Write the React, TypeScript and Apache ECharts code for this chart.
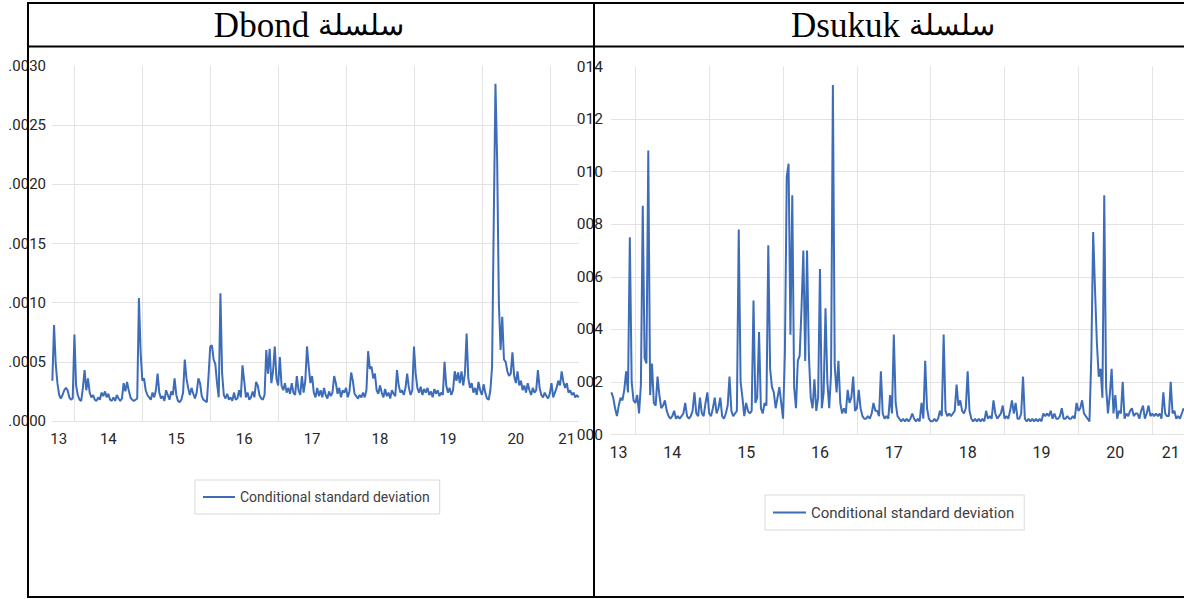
import React, { useEffect, useRef } from 'react';
import * as echarts from 'echarts';

// ---- data ----
const START_YEAR = 2013.675; // first observation (fractional year)
const STEP_YEAR = 0.025; // spacing between observations (fractional year)
const X_MIN = 2013.67;
const X_MAX = 2021.43;

const SERIES_NAME = 'Conditional standard deviation';

const yearGridLines = [2014, 2015, 2016, 2017, 2018, 2019, 2020, 2021];
const yearLabelPositions = [2013.77, 2014.5, 2015.5, 2016.5, 2017.5, 2018.5, 2019.5, 2020.5, 2021.25];
const yearLabels = ['13', '14', '15', '16', '17', '18', '19', '20', '21'];

const dbondTickLabels = ['.0000', '.0005', '.0010', '.0015', '.0020', '.0025', '.0030'];
const dsukukTickLabels = ['000', '002', '004', '006', '008', '010', '012', '014'];

// Dbond conditional standard deviation, in units of 1e-4
const dbondSd = [
  3.4, 8.1, 4.8, 3.2, 2.2, 1.9, 2.2, 2.6, 2.8, 2.6,
  2.0, 1.8, 1.9, 7.3, 3.0, 2.2, 1.8, 1.7, 2.8, 4.3,
  2.6, 3.6, 2.4, 2.0, 2.2, 1.8, 1.7, 2.0, 1.8, 2.4,
  2.1, 2.5, 2.0, 2.3, 1.8, 1.7, 2.0, 1.7, 2.2, 1.9,
  1.7, 1.9, 3.2, 2.5, 3.3, 2.6, 2.0, 1.8, 1.7, 1.8,
  1.9, 10.4, 5.8, 3.4, 3.6, 2.6, 2.2, 2.0, 1.8, 2.4,
  2.0, 2.6, 4.0, 2.4, 1.9, 2.1, 1.7, 2.6, 2.2, 1.8,
  2.5, 2.2, 3.6, 2.2, 1.7, 1.6, 1.8, 2.4, 5.2, 3.6,
  2.8, 2.2, 2.8, 2.3, 1.9, 2.4, 3.6, 3.2, 2.1, 1.8,
  1.7, 1.6, 3.8, 6.3, 6.4, 5.2, 4.8, 3.2, 2.0, 10.8,
  4.0, 2.2, 1.9, 2.3, 1.8, 2.0, 1.7, 2.4, 1.8, 1.9,
  2.6, 2.0, 4.7, 3.4, 2.0, 2.4, 1.8, 2.0, 2.5, 2.0,
  3.3, 3.0, 2.2, 1.9, 1.8, 2.2, 6.0, 4.0, 6.1, 3.2,
  4.2, 6.3, 3.6, 3.0, 5.4, 3.0, 2.6, 3.2, 2.4, 2.8,
  2.3, 3.2, 2.4, 2.2, 3.8, 2.6, 2.2, 3.8, 2.4, 3.4,
  6.3, 4.6, 3.2, 3.8, 2.4, 2.0, 2.8, 2.1, 2.6, 2.0,
  2.8, 2.2, 1.9, 2.5, 2.1, 2.4, 3.8, 3.2, 2.3, 2.8,
  2.0, 2.6, 2.4, 2.8, 2.0, 2.5, 4.1, 3.4, 2.3, 2.1,
  1.9, 2.2, 2.0, 2.4, 2.0, 2.6, 5.9, 4.4, 4.6, 3.6,
  4.0, 2.6, 2.3, 3.0, 2.4, 2.0, 2.7, 2.1, 2.4, 1.9,
  2.6, 2.3, 2.1, 4.3, 3.0, 2.4, 2.6, 2.2, 2.8, 4.0,
  2.8, 2.2, 2.6, 6.3, 4.0, 2.8, 2.4, 2.9, 2.2, 2.7,
  2.4, 2.8, 2.2, 2.5, 2.0, 2.7, 2.3, 2.6, 2.1, 2.4,
  2.2, 5.0, 3.0, 2.4, 2.8, 2.2, 2.6, 4.2, 3.4, 4.1,
  3.2, 4.2, 3.0, 4.0, 7.4, 3.6, 2.8, 3.2, 2.4, 2.8,
  2.2, 3.3, 2.6, 2.2, 3.1, 2.4, 1.9, 1.8, 2.6, 4.6,
  17.0, 28.5, 22.0, 10.0, 6.0, 8.8, 5.2, 5.0, 4.2, 3.8,
  4.0, 5.8, 3.8, 3.2, 4.2, 3.0, 3.4, 2.6, 3.0, 2.4,
  3.2, 2.6, 2.2, 2.8, 2.4, 2.6, 4.3, 2.8, 2.2, 2.0,
  2.4, 2.1, 1.9, 2.3, 3.2, 2.0, 2.4, 2.8, 3.4, 3.0,
  4.2, 3.3, 2.8, 3.2, 2.4, 2.6, 2.2, 2.4, 2.0, 2.2, 2.0,
];

// Dsukuk conditional standard deviation, in units of 1e-3
const dsukukSd = [
  1.6, 1.4, 1.0, 0.7, 1.1, 1.4, 1.3, 1.7, 2.4, 1.6,
  7.5, 2.0, 1.3, 1.2, 1.5, 0.8, 1.9, 8.7, 2.9, 2.7,
  10.8, 1.5, 2.7, 1.2, 1.1, 2.2, 1.5, 1.0, 1.1, 1.3,
  0.9, 0.7, 0.6, 0.7, 0.9, 0.6, 0.7, 0.6, 0.7, 0.8,
  1.2, 0.7, 0.6, 0.7, 0.9, 1.6, 0.8, 0.7, 1.4, 0.8,
  0.7, 1.2, 1.6, 0.8, 0.7, 1.0, 1.4, 0.8, 1.0, 1.4,
  0.7, 0.6, 0.8, 1.1, 2.2, 0.9, 0.7, 0.8, 0.9, 7.8,
  2.0, 1.4, 0.7, 1.2, 0.9, 0.8, 0.9, 5.1, 1.2, 1.4,
  3.9, 1.0, 0.8, 1.2, 1.1, 7.2, 2.5, 1.8, 1.6, 1.0,
  1.4, 1.8, 1.2, 0.6, 3.1, 9.8, 10.3, 3.8, 9.1, 1.8,
  1.0, 2.8, 3.0, 4.8, 7.0, 2.8, 7.0, 3.0, 1.4, 1.0,
  2.1, 0.9, 1.4, 6.3, 1.0, 1.6, 4.8, 2.0, 1.0, 2.3,
  13.3, 2.6, 1.6, 2.8, 1.2, 0.8, 1.0, 0.8, 1.7, 1.2,
  1.4, 2.2, 0.9, 1.0, 1.7, 1.0, 0.7, 0.6, 0.6, 0.7,
  0.6, 0.8, 1.2, 0.9, 0.9, 0.7, 2.4, 0.8, 0.6, 0.7,
  0.6, 1.5, 0.8, 3.8, 1.2, 0.7, 0.6, 0.5, 0.6, 0.5,
  0.6, 0.5, 0.6, 0.8, 0.6, 0.5, 0.6, 0.5, 1.2, 0.6,
  2.8, 1.0, 0.6, 0.5, 0.5, 0.6, 0.5, 0.6, 0.9, 0.7,
  3.8, 0.9, 0.7, 0.8, 0.7, 0.8, 0.9, 1.9, 1.1, 1.3,
  0.9, 0.8, 1.0, 2.4, 0.9, 0.6, 0.5, 0.6, 0.5, 0.6,
  0.5, 0.6, 0.5, 0.9, 0.6, 0.7, 0.6, 1.3, 0.8, 0.6,
  0.7, 0.8, 1.1, 0.6, 0.7, 0.6, 0.9, 1.3, 0.8, 1.2,
  0.6, 0.6, 0.8, 2.2, 0.6, 0.5, 0.6, 0.5, 0.6, 0.5,
  0.6, 0.5, 0.6, 0.5, 0.8, 0.7, 0.8, 0.7, 0.9, 0.6,
  0.8, 0.6, 0.6, 0.7, 1.0, 0.6, 0.6, 0.7, 0.6, 0.6,
  0.7, 0.6, 1.2, 0.9, 1.0, 1.3, 0.8, 0.7, 0.6, 0.5,
  3.0, 7.7, 5.5, 3.5, 2.2, 2.5, 1.4, 9.1, 1.8, 0.8,
  1.5, 2.5, 0.8, 1.5, 0.6, 0.9, 0.8, 2.0, 0.6, 0.8,
  0.7, 0.9, 1.0, 0.7, 0.8, 0.8, 0.6, 0.9, 1.1, 0.6,
  0.8, 1.1, 0.7, 0.8, 0.7, 0.8, 0.7, 0.8, 0.6, 1.6,
  0.8, 0.7, 0.7, 2.0, 0.8, 0.9, 0.6, 0.7, 0.6, 0.8, 1.0,
];

// ---- styles ----
const SANS = 'Roboto, "Liberation Sans", sans-serif';
const SERIF = '"Liberation Serif", "Times New Roman", "DejaVu Serif", serif';
const LINE_COLOR = '#3d6cb9';
const GRID_COLOR = '#e3e3e3';
const LABEL_COLOR = '#262626';

function toPoints(values: number[], unit: number) {
  return values.map((v, i) => [+(START_YEAR + i * STEP_YEAR).toFixed(3), +(v * unit).toPrecision(6)]);
}

function xAxisFor(gridIndex: number, fontSize: number) {
  return {
    type: 'value',
    gridIndex,
    min: X_MIN,
    max: X_MAX,
    axisLine: { show: false },
    axisTick: { show: false, customValues: yearGridLines },
    splitLine: { show: true, lineStyle: { color: GRID_COLOR, width: 1 } },
    axisLabel: {
      customValues: yearLabelPositions,
      formatter: (v: number) => yearLabels[yearLabelPositions.indexOf(v)] ?? String(Math.floor(v) % 100),
      fontFamily: SANS,
      fontSize,
      color: LABEL_COLOR,
      margin: 10,
    },
  };
}

function titleText(x: number, latin: string) {
  return {
    type: 'text',
    z: 100,
    x,
    y: 25,
    style: {
      text: `{a|${latin}}{b|سلسلة}`,
      rich: {
        a: { font: `35px ${SERIF}`, fill: '#000' },
        b: { font: `29px ${SERIF}`, fill: '#000', padding: [0, 0, 0, 9] },
      },
      textAlign: 'center',
      textVerticalAlign: 'middle',
    },
  };
}

export default function App() {
  const ref = useRef<HTMLDivElement>(null);

  useEffect(() => {
    if (!ref.current) return;
    const chart = echarts.init(ref.current, null, { renderer: 'svg' });

    const frameLine = (x1: number, y1: number, x2: number, y2: number) => ({
      type: 'line',
      z: 100,
      silent: true,
      shape: { x1, y1, x2, y2 },
      style: { stroke: '#000', lineWidth: 2 },
    });

    const option: any = {
      animation: false,
      backgroundColor: '#fff',
      grid: [
        { left: 52, top: 66, width: 527, height: 355 },
        { left: 611, top: 66.5, width: 573, height: 368 },
      ],
      xAxis: [xAxisFor(0, 15), xAxisFor(1, 16)],
      yAxis: [
        {
          type: 'value',
          gridIndex: 0,
          min: 0,
          max: 0.003,
          interval: 0.0005,
          axisLine: { show: false },
          axisTick: { show: false },
          splitLine: { show: true, showMaxLine: false, lineStyle: { color: GRID_COLOR, width: 1 } },
          axisLabel: {
            formatter: (v: number) => dbondTickLabels[Math.round(v / 0.0005)],
            fontFamily: SANS,
            fontSize: 15,
            color: LABEL_COLOR,
            margin: 6,
            showMinLabel: true,
            showMaxLabel: true,
          },
        },
        {
          type: 'value',
          gridIndex: 1,
          min: 0,
          max: 0.014,
          interval: 0.002,
          axisLine: { show: false },
          axisTick: { show: false },
          splitLine: { show: true, showMaxLine: false, lineStyle: { color: GRID_COLOR, width: 1 } },
          axisLabel: {
            formatter: (v: number) => dsukukTickLabels[Math.round(v / 0.002)],
            fontFamily: SANS,
            fontSize: 15.5,
            color: LABEL_COLOR,
            margin: 8,
            showMinLabel: true,
            showMaxLabel: true,
          },
        },
      ],
      legend: [
        {
          left: 195,
          top: 480,
          padding: [10, 10, 10, 8],
          borderColor: '#d9d9d9',
          borderWidth: 1,
          icon: 'rect',
          itemWidth: 32,
          itemHeight: 2,
          selectedMode: false,
          data: [SERIES_NAME],
          textStyle: { fontFamily: SANS, fontSize: 14, color: '#404040' },
        },
        {
          left: 765,
          top: 495,
          padding: [10, 10, 10, 8],
          borderColor: '#d9d9d9',
          borderWidth: 1,
          icon: 'rect',
          itemWidth: 33,
          itemHeight: 2,
          selectedMode: false,
          data: [SERIES_NAME],
          textStyle: { fontFamily: SANS, fontSize: 15, color: '#404040' },
        },
      ],
      series: [
        {
          name: SERIES_NAME,
          type: 'line',
          xAxisIndex: 0,
          yAxisIndex: 0,
          symbol: 'none',
          showSymbol: false,
          color: LINE_COLOR,
          lineStyle: { color: LINE_COLOR, width: 2 },
          data: toPoints(dbondSd, 1e-4),
        },
        {
          name: SERIES_NAME,
          type: 'line',
          xAxisIndex: 1,
          yAxisIndex: 1,
          symbol: 'none',
          showSymbol: false,
          color: LINE_COLOR,
          lineStyle: { color: LINE_COLOR, width: 2 },
          data: toPoints(dsukukSd, 1e-3),
        },
      ],
      graphic: [
        frameLine(28, 3, 1184, 3),
        frameLine(28, 46.5, 1184, 46.5),
        frameLine(28, 597, 1184, 597),
        frameLine(28, 2, 28, 598),
        frameLine(594, 2, 594, 598),
        titleText(309, 'Dbond'),
        titleText(893, 'Dsukuk'),
      ],
    };

    chart.setOption(option);
    return () => chart.dispose();
  }, []);

  return (
    <div
      ref={ref}
      style={{ position: 'absolute', left: 0, top: 0, width: 1184, height: 599 }}
    />
  );
}
